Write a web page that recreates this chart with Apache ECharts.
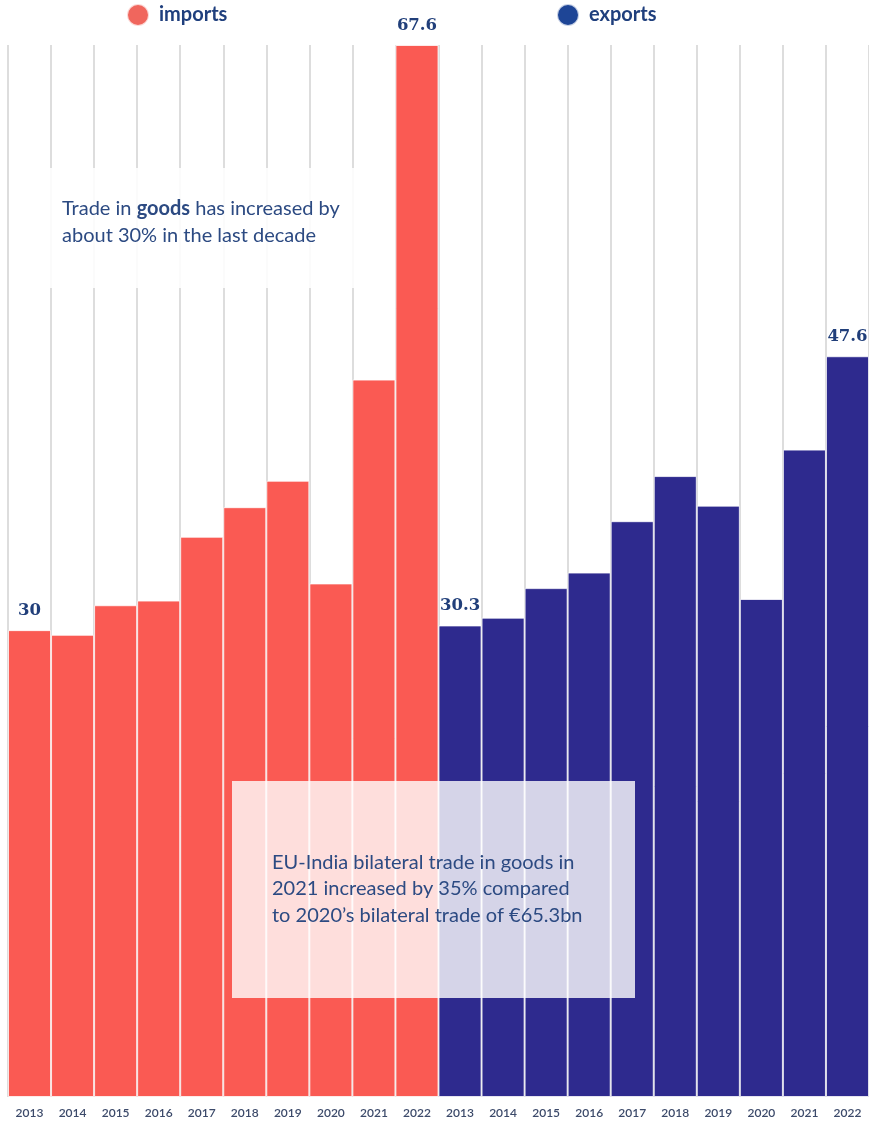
<!DOCTYPE html>
<html>
<head>
<meta charset="utf-8">
<script src="https://cdn.jsdelivr.net/npm/echarts@6/dist/echarts.min.js"></script>
<style>
html,body{margin:0;padding:0;background:#fff;}
#chart{width:869px;height:1122px;}
</style>
</head>
<body>
<div id="chart"></div>
<script>
const years = ['2013','2014','2015','2016','2017','2018','2019','2020','2021','2022'];
const imports = [30, 29.7, 31.6, 31.9, 36.0, 37.9, 39.6, 33.0, 46.1, 67.6];
const exports = [30.3, 30.8, 32.7, 33.7, 37.0, 39.9, 38.0, 32.0, 41.6, 47.6];
const labelledIndices = [0, 9];

const categories = years.map(y => 'imports ' + y).concat(years.map(y => 'exports ' + y));

function items(vals, offset) {
  const out = new Array(categories.length).fill('-');
  vals.forEach((v, i) => {
    out[offset + i] = { value: v, label: { show: labelledIndices.indexOf(i) >= 0 } };
  });
  return out;
}

const chart = echarts.init(document.getElementById('chart'), null, { renderer: 'canvas' });
const txtColor = '#2c4a82';

const legendText = { fontFamily: 'Lato', fontWeight: 'bold', fontSize: 20, color: '#1f3f7d', padding: [0, 0, 0, 5] };

chart.setOption({
  animation: false,
  backgroundColor: '#ffffff',
  grid: { left: 8, right: 0, top: 45, bottom: 25, containLabel: false },
  legend: [
    {
      data: [{ name: 'imports', itemStyle: { color: '#f0665d' } }],
      left: 126, top: 3, padding: 0, icon: 'circle', itemWidth: 22, itemHeight: 22,
      selectedMode: false, textStyle: legendText
    },
    {
      data: [{ name: 'exports', itemStyle: { color: '#1e4596' } }],
      left: 556, top: 3, padding: 0, icon: 'circle', itemWidth: 22, itemHeight: 22,
      selectedMode: false, textStyle: legendText
    }
  ],
  xAxis: {
    type: 'category',
    data: categories,
    axisLine: { show: false },
    axisTick: { show: false },
    axisLabel: {
      interval: 0, margin: 10, fontSize: 12, fontFamily: 'Lato', fontWeight: 600, color: '#3c4a6a',
      formatter: v => v.split(' ')[1]
    },
    splitLine: { show: true, interval: 0, lineStyle: { color: '#d2d2d2', width: 1.5 } }
  },
  yAxis: { type: 'value', min: 0, max: 67.6, show: false, splitLine: { show: false } },
  series: [
    {
      name: 'imports', type: 'bar', data: items(imports, 0),
      barGap: '-100%', barCategoryGap: '0%',
      itemStyle: { color: '#fa5a53', borderColor: 'rgba(255,255,255,0.75)', borderWidth: 1 },
      label: { position: 'top', distance: 11, fontFamily: 'DejaVu Serif', fontWeight: 'bold', fontSize: 16.5, color: '#213f7a' }
    },
    {
      name: 'exports', type: 'bar', data: items(exports, 10),
      barGap: '-100%', barCategoryGap: '0%',
      itemStyle: { color: '#2e2a8e', borderColor: 'rgba(255,255,255,0.75)', borderWidth: 1 },
      label: { position: 'top', distance: 11, fontFamily: 'DejaVu Serif', fontWeight: 'bold', fontSize: 16.5, color: '#213f7a' }
    }
  ],
  graphic: [
    { type: 'rect', z: 100, shape: { x: 20, y: 168, width: 355, height: 120 }, style: { fill: 'rgba(255,255,255,0.88)' } },
    {
      type: 'text', z: 101, left: 62, top: 199,
      style: {
        text: '{n|Trade in }{b|goods}{n| has increased by}\n{n|about 30% in the last decade}',
        rich: {
          n: { fontFamily: 'Lato', fontSize: 20, fill: txtColor, lineHeight: 27 },
          b: { fontFamily: 'Lato', fontSize: 20, fontWeight: 'bold', fill: txtColor, lineHeight: 27 }
        }
      }
    },
    { type: 'rect', z: 100, shape: { x: 232, y: 781, width: 403, height: 217 }, style: { fill: 'rgba(255,255,255,0.8)' } },
    {
      type: 'text', z: 101, left: 272, top: 849,
      style: {
        text: 'EU-India bilateral trade in goods in\n2021 increased by 35% compared\nto 2020\u2019s bilateral trade of \u20ac65.3bn',
        fontFamily: 'Lato', fontSize: 20, lineHeight: 26.5, fill: txtColor
      }
    }
  ]
});
</script>
</body>
</html>
